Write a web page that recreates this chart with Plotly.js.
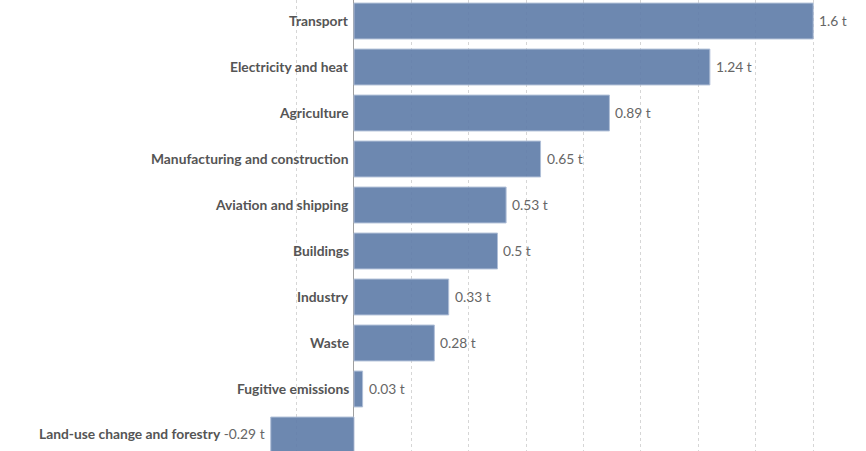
<!DOCTYPE html>
<html>
<head>
<meta charset="utf-8">
<script src="https://cdn.plot.ly/plotly-3.0.1.min.js"></script>
<style>html,body{margin:0;padding:0;background:#fff;}#chart{width:866px;height:451px;}</style>
</head>
<body>
<div id="chart"></div>
<script>
const categories = ["Transport","Electricity and heat","Agriculture","Manufacturing and construction","Aviation and shipping","Buildings","Industry","Waste","Fugitive emissions","Land-use change and forestry"];
const values = [1.6,1.24,0.89,0.65,0.53,0.5,0.33,0.28,0.03,-0.29];
const unit = " t";
const gridTicks = [-0.2,0,0.2,0.4,0.6,0.8,1.0,1.2,1.4,1.6];

const barColor = "rgb(97,126,170)";
const labelFont = {family: "Lato, 'Noto Sans', sans-serif", size: 13.8, color: "#555"};
const valueFont = {family: "Lato, 'Noto Sans', sans-serif", size: 13.8, color: "#666"};

const annotations = [];
categories.forEach((c, i) => {
  const v = values[i];
  const vt = String(v) + unit;
  if (v >= 0) {
    annotations.push({x: 0, y: c, xref: "x", yref: "y", text: "<b>" + c + "</b>", showarrow: false, xanchor: "right", xshift: -3, yshift: 1, font: labelFont});
    annotations.push({x: v, y: c, xref: "x", yref: "y", text: vt, showarrow: false, xanchor: "left", xshift: 4, yshift: 1, font: valueFont});
  } else {
    annotations.push({x: v, y: c, xref: "x", yref: "y", text: "<b>" + c + "</b> <span style='color:#666'>" + vt + "</span>", showarrow: false, xanchor: "right", xshift: -4, yshift: 1, font: labelFont});
  }
});

const trace = {
  type: "bar",
  orientation: "h",
  y: categories,
  x: values,
  marker: {color: barColor, opacity: 0.92, line: {color: "rgba(170,186,212,1)", width: 1}},
  hoverinfo: "none"
};

const layout = {
  width: 866, height: 451,
  margin: {l: 0, r: 0, t: 0, b: 0, pad: 0},
  paper_bgcolor: "#fff", plot_bgcolor: "#fff",
  showlegend: false,
  bargap: 0.22,
  xaxis: {
    range: [-1.2334, 1.784],
    tickmode: "array", tickvals: gridTicks, showticklabels: false,
    showgrid: true, gridcolor: "#d6d6d6", griddash: "3px,3px", gridwidth: 1,
    zeroline: true, zerolinecolor: "#a0a0a0", zerolinewidth: 1,
    showline: false, fixedrange: true
  },
  yaxis: {
    type: "category",
    range: [9.348, -0.457],
    showticklabels: false, showgrid: false, zeroline: false, showline: false, fixedrange: true
  },
  annotations: annotations
};

Plotly.newPlot("chart", [trace], layout, {displayModeBar: false, staticPlot: true});
</script>
</body>
</html>
